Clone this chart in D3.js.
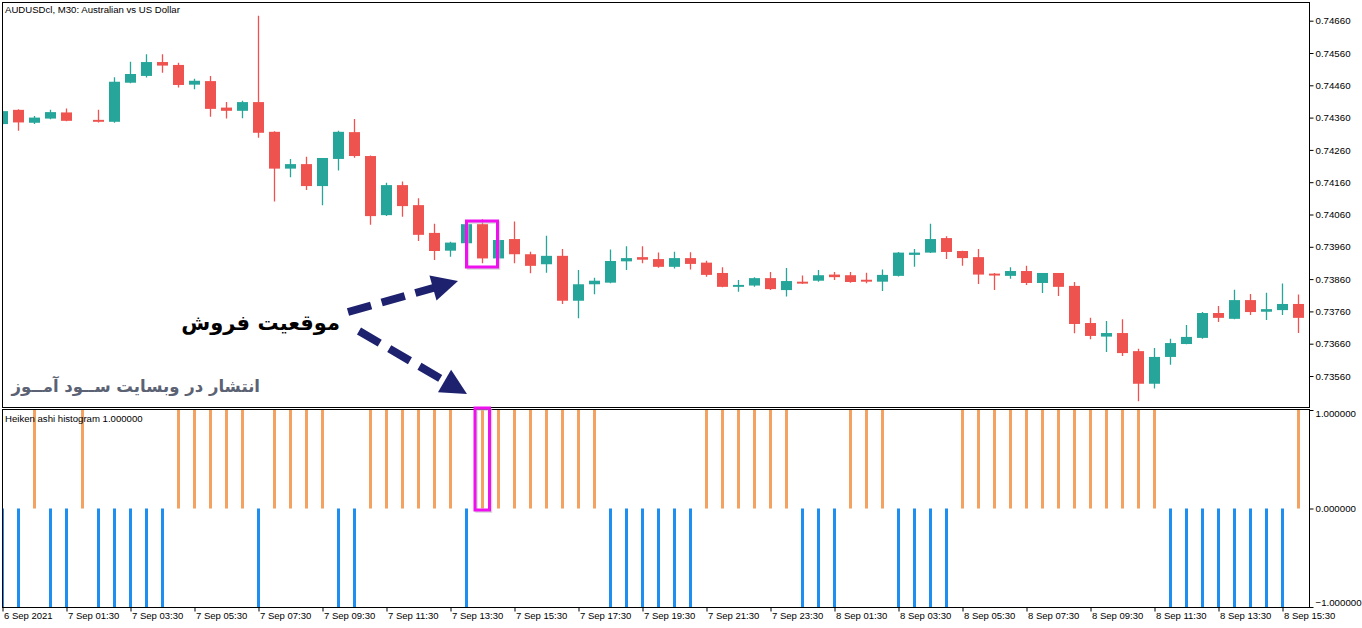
<!DOCTYPE html>
<html>
<head>
<meta charset="utf-8">
<script src="https://cdn.jsdelivr.net/npm/d3@7"></script>
<style>
  body { margin: 0; background: #fff; }
  svg { display: block; font-family: "Liberation Sans", Arial, sans-serif; }
</style>
</head>
<body>
<svg id="svg" width="1362" height="628"></svg>
<script>
// AUDUSDcl M30 candles (bar 5 has no candle)
const opens = [0.74340,0.74384,0.74344,0.74357,0.74376,null,0.74353,0.74347,0.74468,0.74489,
  0.74532,0.74523,0.74462,0.74473,0.74391,0.74381,0.74408,0.74316,0.74202,0.74216,
  0.74148,0.74232,0.74315,0.74241,0.74058,0.74151,0.74089,0.74003,0.73948,0.73971,
  0.74030,0.73924,0.73984,0.73937,0.73906,0.73932,0.73793,0.73844,0.73849,0.73915,
  0.73928,0.73922,0.73898,0.73925,0.73911,0.73879,0.73836,0.73840,0.73863,0.73826,
  0.73852,0.73855,0.73874,0.73872,0.73858,0.73852,0.73870,0.73935,0.73942,0.73987,
  0.73947,0.73928,0.73877,0.73870,0.73885,0.73848,0.73879,0.73839,0.73724,0.73682,
  0.73693,0.73637,0.73536,0.73619,0.73659,0.73678,0.73755,0.73737,0.73795,0.73759,
  0.73764,0.73783];
const highs = [0.74382,0.74386,0.74365,0.74384,0.74388,null,0.74384,0.74485,0.74533,0.74556,
  0.74556,0.74530,0.74480,0.74489,0.74408,0.74412,0.74675,0.74318,0.74232,0.74239,
  0.74235,0.74319,0.74356,0.74243,0.74158,0.74162,0.74110,0.74031,0.73976,0.74034,
  0.74045,0.73983,0.74038,0.73945,0.73994,0.73953,0.73888,0.73864,0.73952,0.73962,
  0.73962,0.73942,0.73945,0.73943,0.73917,0.73897,0.73857,0.73866,0.73882,0.73894,
  0.73871,0.73888,0.73882,0.73882,0.73880,0.73890,0.73944,0.73953,0.74031,0.73993,
  0.73948,0.73953,0.73879,0.73897,0.73901,0.73879,0.73879,0.73851,0.73740,0.73730,
  0.73736,0.73644,0.73647,0.73675,0.73718,0.73758,0.73777,0.73827,0.73814,0.73818,
  0.73846,0.73812];
const lows = [0.74338,0.74319,0.74340,0.74355,0.74349,null,0.74345,0.74344,0.74466,0.74484,
  0.74499,0.74453,0.74448,0.74363,0.74357,0.74358,0.74298,0.74100,0.74175,0.74136,
  0.74089,0.74196,0.74236,0.74028,0.74055,0.74053,0.73978,0.73919,0.73929,0.73970,
  0.73909,0.73922,0.73909,0.73878,0.73880,0.73783,0.73739,0.73813,0.73847,0.73888,
  0.73909,0.73895,0.73893,0.73890,0.73867,0.73835,0.73821,0.73836,0.73826,0.73806,
  0.73845,0.73852,0.73857,0.73849,0.73847,0.73823,0.73868,0.73898,0.73941,0.73922,
  0.73901,0.73845,0.73826,0.73861,0.73842,0.73817,0.73808,0.73692,0.73674,0.73634,
  0.73622,0.73482,0.73521,0.73595,0.73658,0.73675,0.73727,0.73736,0.73749,0.73733,
  0.73749,0.73693];
const closes = [0.74380,0.74345,0.74360,0.74377,0.74350,null,0.74347,0.74471,0.74495,0.74532,
  0.74521,0.74461,0.74474,0.74387,0.74381,0.74408,0.74313,0.74202,0.74216,0.74148,
  0.74235,0.74316,0.74241,0.74055,0.74151,0.74086,0.73997,0.73947,0.73973,0.74030,
  0.73924,0.73981,0.73937,0.73901,0.73932,0.73793,0.73844,0.73855,0.73916,0.73925,
  0.73920,0.73898,0.73925,0.73907,0.73873,0.73836,0.73842,0.73863,0.73829,0.73854,
  0.73846,0.73872,0.73866,0.73851,0.73852,0.73873,0.73942,0.73942,0.73984,0.73944,
  0.73925,0.73874,0.73871,0.73885,0.73848,0.73879,0.73836,0.73721,0.73684,0.73693,
  0.73631,0.73536,0.73619,0.73662,0.73681,0.73755,0.73740,0.73795,0.73758,0.73767,
  0.73783,0.73740];

// Heiken ashi histogram: 1 = bearish (orange), -1 = bullish (blue)
const haValues = [-1,-1,1,-1,-1,1,-1,-1,-1,-1,-1,1,1,1,1,1,-1,1,1,1,1,-1,-1,1,1,1,1,1,1,-1,
  1,1,1,1,1,1,1,1,-1,-1,-1,-1,-1,-1,1,1,1,1,1,1,-1,-1,-1,1,1,1,-1,-1,-1,-1,
  1,1,1,1,1,1,1,1,1,1,1,1,1,-1,-1,-1,-1,-1,-1,-1,-1,1];

const priceTicks = [0.73560,0.73660,0.73760,0.73860,0.73960,0.74060,0.74160,0.74260,0.74360,0.74460,0.74560,0.74660];
const histTicks = [1, 0, -1];
const timeTickBars = [0,4,8,12,16,20,24,28,32,36,40,44,48,52,56,60,64,68,72,76,80];
const timeTickLabels = ["6 Sep 2021","7 Sep 01:30","7 Sep 03:30","7 Sep 05:30","7 Sep 07:30",
  "7 Sep 09:30","7 Sep 11:30","7 Sep 13:30","7 Sep 15:30","7 Sep 17:30","7 Sep 19:30",
  "7 Sep 21:30","7 Sep 23:30","8 Sep 01:30","8 Sep 03:30","8 Sep 05:30","8 Sep 07:30",
  "8 Sep 09:30","8 Sep 11:30","8 Sep 13:30","8 Sep 15:30"];
const signalBar = 30;

const svg = d3.select("#svg");
const L = 2.5, R = 1309.5, mainTop = 2.5, mainBot = 407.5, histTop = 409.5, histBot = 607.5;
const bull = "#26a69a", bear = "#ef5350";

const bars = opens.map((o, i) => ({i, o, h: highs[i], l: lows[i], c: closes[i]}));

const x = d3.scaleLinear().domain([0, 81]).range([2.5, 1298.5]);
const y = d3.scaleLinear().domain([0.73560, 0.74660]).range([376, 20.7]);
const yh = d3.scaleLinear().domain([-1, 1]).range([607, 410]);

const defs = svg.append("defs");
defs.append("clipPath").attr("id", "clipMain")
  .append("rect").attr("x", L).attr("y", mainTop).attr("width", R - L).attr("height", mainBot - mainTop);
defs.append("clipPath").attr("id", "clipHist")
  .append("rect").attr("x", L).attr("y", histTop).attr("width", R - L).attr("height", histBot - histTop);

// candles
const gc = svg.append("g").attr("clip-path", "url(#clipMain)");
const candles = gc.selectAll(".candle")
  .data(bars.filter(d => d.o !== null))
  .enter().append("g")
  .attr("fill", d => d.c >= d.o ? bull : bear)
  .attr("stroke", d => d.c >= d.o ? bull : bear);
candles.append("line")
  .attr("x1", d => x(d.i)).attr("x2", d => x(d.i))
  .attr("y1", d => y(d.h)).attr("y2", d => y(d.l))
  .attr("stroke-width", 1.3);
candles.append("rect")
  .attr("x", d => x(d.i) - 5.5).attr("width", 11)
  .attr("y", d => y(Math.max(d.o, d.c)))
  .attr("height", d => Math.max(1.5, Math.abs(y(d.o) - y(d.c))))
  .attr("stroke", "none");

// histogram
const gh = svg.append("g").attr("clip-path", "url(#clipHist)");
gh.selectAll(".ha")
  .data(haValues)
  .enter().append("rect")
  .attr("x", (d, i) => x(i) - 1.5).attr("width", 3)
  .attr("y", d => d > 0 ? yh(d) : yh(0))
  .attr("height", d => Math.abs(yh(d) - yh(0)))
  .attr("fill", d => d > 0 ? "#f4a261" : "#1e8ff0");

// frames
[[mainTop, mainBot], [histTop, histBot]].forEach(([t, b]) => {
  svg.append("rect").attr("x", L).attr("y", t).attr("width", R - L).attr("height", b - t)
    .attr("fill", "none").attr("stroke", "#000");
});

// price axis
const ya = svg.append("g").attr("transform", `translate(${R},0)`)
  .call(d3.axisRight(y).tickValues(priceTicks).tickFormat(d3.format(".5f")).tickSize(4).tickPadding(2));
ya.select(".domain").remove();
ya.selectAll("text").style("font-size", "9.7px").attr("fill", "#000").style("font-family", "Liberation Sans, Arial");
ya.selectAll(".tick line").attr("stroke", "#000");

// histogram axis
const ha = svg.append("g").attr("transform", `translate(${R},0)`)
  .call(d3.axisRight(yh).tickValues(histTicks).tickFormat(d3.format(".6f")).tickSize(4).tickPadding(2));
ha.select(".domain").remove();
ha.selectAll("text").style("font-size", "9.7px").attr("fill", "#000").style("font-family", "Liberation Sans, Arial")
  .attr("y", d => d === 1 ? 3 : d === -1 ? -5 : 0);
ha.selectAll(".tick line").attr("stroke", "#000");

// time axis
const xa = svg.append("g").attr("transform", `translate(0,${histBot})`)
  .call(d3.axisBottom(x).tickValues(timeTickBars).tickFormat((d, i) => timeTickLabels[i]).tickSize(4).tickPadding(1));
xa.select(".domain").remove();
xa.selectAll("text").attr("text-anchor", "start").attr("x", 1)
  .style("font-size", "9.5px").attr("fill", "#000").style("font-family", "Liberation Sans, Arial");
xa.selectAll(".tick line").attr("stroke", "#000");

// panel titles
svg.append("text").attr("x", 5).attr("y", 12.5).style("font-size", "9.6px")
  .text("AUDUSDcl, M30:  Australian vs US Dollar");
svg.append("text").attr("x", 5).attr("y", 421.5).style("font-size", "9.6px")
  .text("Heiken ashi histogram 1.000000");

// highlight boxes round the sell bar
function box(x0, x1, y0, y1) {
  svg.append("rect").attr("x", x0 + 1.5).attr("y", y0 + 1.5).attr("width", x1 - x0).attr("height", y1 - y0)
    .attr("fill", "none").attr("stroke", "#bbb").attr("stroke-width", 2.5).attr("opacity", 0.6);
  svg.append("rect").attr("x", x0).attr("y", y0).attr("width", x1 - x0).attr("height", y1 - y0)
    .attr("fill", "none").attr("stroke", "#ee10ee").attr("stroke-width", 3);
}
box(x(signalBar) - 16, x(signalBar) + 15, 221, 267);
box(x(signalBar) - 7.5, x(signalBar) + 7, 408, 510);

// arrows
function arrow(x1, y1, x2, y2) {
  const a = Math.atan2(y2 - y1, x2 - x1), hl = 26, hw = 13;
  const bx = x2 - hl * Math.cos(a), by = y2 - hl * Math.sin(a);
  svg.append("line").attr("x1", x1).attr("y1", y1).attr("x2", bx + 3 * Math.cos(a)).attr("y2", by + 3 * Math.sin(a))
    .attr("stroke", "#1d216e").attr("stroke-width", 8).attr("stroke-dasharray", "24 11");
  const px = -Math.sin(a), py = Math.cos(a);
  svg.append("polygon")
    .attr("points", [[x2, y2], [bx + px * hw, by + py * hw], [bx - px * hw, by - py * hw]].map(p => p.join(",")).join(" "))
    .attr("fill", "#1d216e");
}
arrow(348, 312, 458, 281);
arrow(359, 331, 467, 394);

// annotations
svg.append("text").attr("x", 340).attr("y", 330).attr("text-anchor", "end")
  .style("font-family", "DejaVu Sans, sans-serif").style("font-weight", "bold").style("font-size", "21px")
  .attr("fill", "#000").text("موقعیت فروش");
svg.append("text").attr("x", 260).attr("y", 392).attr("text-anchor", "end")
  .style("font-family", "DejaVu Sans, sans-serif").style("font-weight", "bold").style("font-size", "16.5px")
  .attr("fill", "#5b6274").text("انتشار در وبسایت ســود آمــوز");
</script>
</body>
</html>
